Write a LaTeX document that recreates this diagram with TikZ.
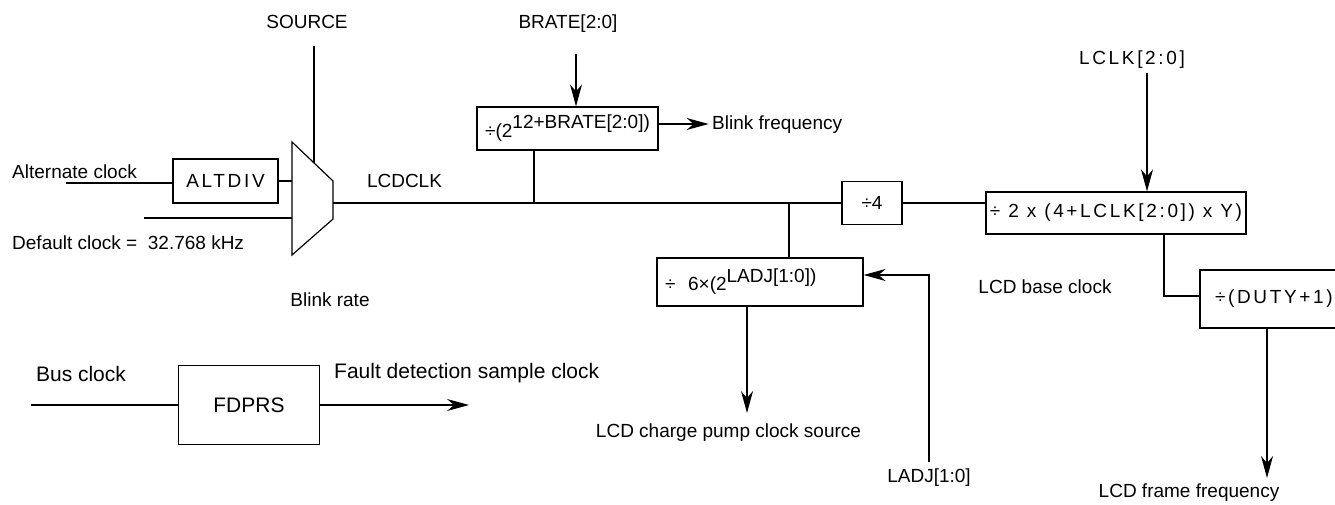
\documentclass[tikz,border=0pt]{standalone}
\usepackage{fontspec}
\setmainfont{Liberation Sans}
\newfontfamily\spacedfont[LetterSpace=14]{Liberation Sans}
\usetikzlibrary{arrows.meta}
\newcommand{\lblsize}{\fontsize{19}{22}\selectfont}
\newcommand{\bigsize}{\fontsize{21}{24}\selectfont}
\tikzset{
  sig/.style={line width=1.2pt},
  arr/.style={sig, -{Stealth[length=22pt,width=12pt,inset=7pt]}},
  lbl/.style={inner sep=0pt, font=\lblsize},
  blk/.style={draw, line width=1.2pt, inner sep=2pt, font=\lblsize},
}
\begin{document}
\begin{tikzpicture}[x=1pt,y=-1pt]
    \useasboundingbox (0,0) rectangle (1335,505);
    % Multiplexer (clock source select)
    \coordinate (muxtl) at (292,142);
    \coordinate (muxtr) at (333,181);
    \coordinate (muxbr) at (333,219);
    \coordinate (muxbl) at (292,255);
    \coordinate (muxsel) at (314,163);
    \coordinate (muxout) at (333,203);
    \draw[sig] (muxtl) -- (muxtr) -- (muxbr) -- (muxbl) -- cycle;
    % Divider blocks
    \node[blk, minimum width=105pt, minimum height=44pt] (altdiv) at (225.5,181) {\spacedfont ALTDIV};
    \node[blk, minimum width=181pt, minimum height=43pt] (brate) at (567.5,128.5) {÷(2\raisebox{9pt}{12+BRATE[2:0])}};
    \node[blk, minimum width=60pt, minimum height=43pt] (div4) at (872,203) {÷4};
    \node[blk, minimum width=260pt, minimum height=42pt, inner sep=0pt] (lclkdiv) at (1116,213) {\spacedfont ÷ 2 x (4+LCLK[2:0]) x Y)};
    \node[blk, text width=190pt, inner xsep=8pt, align=left, minimum height=48pt] (ladjdiv) at (760,282) {÷\ \ 6×(2\raisebox{8pt}{LADJ[1:0])}};
    \node[blk, text width=120pt, inner xsep=15pt, align=left, minimum height=58pt] (dutydiv) at (1275,299) {\spacedfont ÷(DUTY+1)};
    \node[blk, minimum width=141pt, minimum height=79pt, font=\bigsize] (fdprs) at (249,405) {FDPRS};
    % Labels
    \foreach \x/\y/\name/\txt in {307/22/srclbl/SOURCE, 568/24/bratelbl/BRATE[2:0],
        404.5/181/lcdclk/LCDCLK, 330/300/blinkrate/Blink rate, 1045/287/baseclk/LCD base clock,
        728.5/433/pumplbl/LCD charge pump clock source, 929/478/ladjlbl/LADJ[1:0],
        1189/493/framelbl/LCD frame frequency}
        \node[lbl] (\name) at (\x,\y) {\txt};
    \node[lbl, font=\lblsize\spacedfont] (lclklbl) at (1132,60) {LCLK[2:0]};
    \node[lbl, anchor=west] (blinkfreq) at (712,125) {Blink frequency};
    \node[lbl, anchor=west] (altclk) at (12,172) {Alternate clock};
    \node[lbl, anchor=west] (defclk) at (12,243) {Default clock =\ \ 32.768 kHz};
    \node[lbl, font=\bigsize] (busclk) at (81,374) {Bus clock};
    \node[lbl, anchor=west, font=\bigsize] (faultlbl) at (334,373) {Fault detection sample clock};
    % Free ends of the signal lines
    \coordinate (altin) at (66,183);
    \coordinate (defin) at (144,218);
    \coordinate (srctop) at (314,46);
    \coordinate (bratetop) at (576,54);
    \coordinate (lclktop) at (1147,73);
    \coordinate (tapb) at (534,203);
    \coordinate (tapl) at (789,203);
    \coordinate (pumptip) at (747,413);
    \coordinate (ladjbot) at (929,462);
    \coordinate (frametip) at (1267,478);
    \coordinate (busin) at (31,405);
    \coordinate (faulttip) at (469,405);
    % Clock inputs into the multiplexer
    \draw[sig] (altin) -- (altin -| altdiv.west);
    \draw[sig] (altdiv.east) -- (altdiv.east -| muxtl);
    \draw[sig] (defin) -- (defin -| muxtl);
    \draw[sig] (srctop) -- (muxsel);
    % LCDCLK bus
    \draw[sig] (muxout) -- (div4.west);
    \draw[sig] (div4.east) -- (div4.east -| lclkdiv.west);
    \draw[sig] (tapb) -- (tapb |- brate.south);
    \draw[sig] (tapl) -- (tapl |- ladjdiv.north);
    % Blink divider
    \draw[arr] (bratetop) -- (bratetop |- brate.north);
    \draw[arr] ([yshift=4.5pt]brate.east) -- ++(50,0);
    % Charge pump divider
    \draw[arr] (pumptip |- ladjdiv.south) -- (pumptip);
    \draw[arr] (ladjbot) |- ([yshift=7pt]ladjdiv.east);
    % Base clock and frame frequency
    \draw[arr] (lclktop) -- (lclktop |- lclkdiv.north);
    \draw[sig] ([xshift=48pt]lclkdiv.south) |- ([yshift=3pt]dutydiv.west);
    \draw[arr] (frametip |- dutydiv.south) -- (frametip);
    % Fault detection prescaler
    \draw[sig] (busin) -- (fdprs.west);
    \draw[arr] (fdprs.east) -- (faulttip);
\end{tikzpicture}
\end{document}
